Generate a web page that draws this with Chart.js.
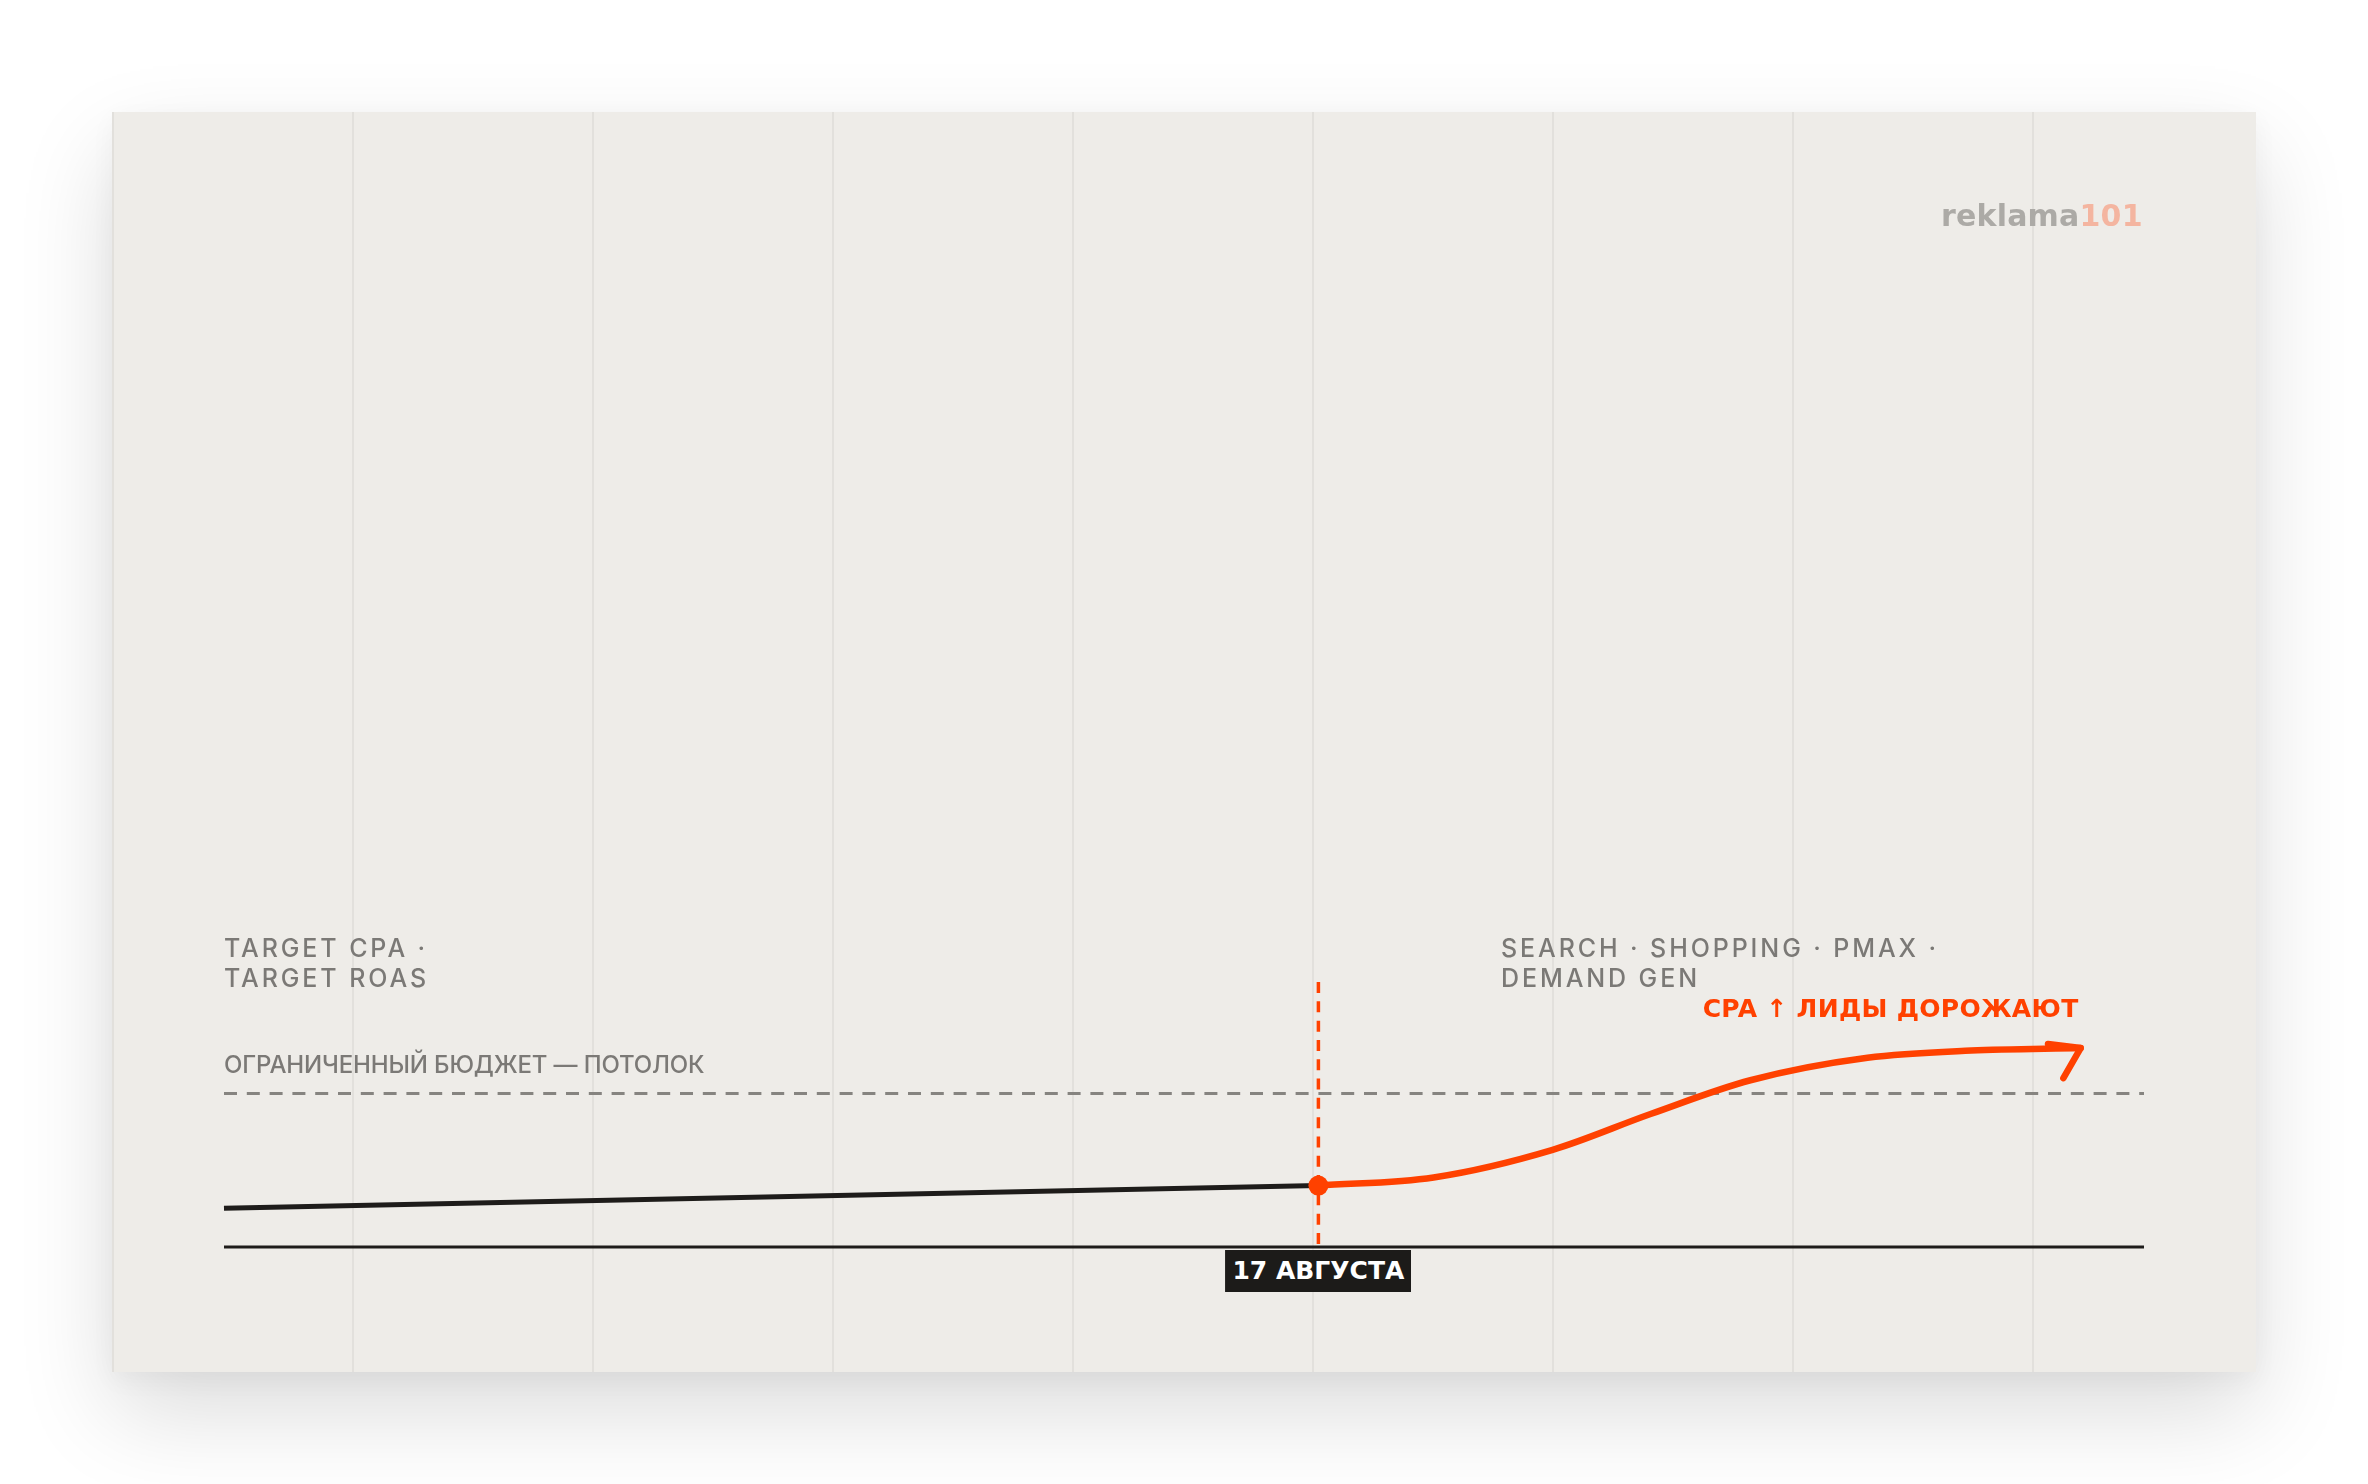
<!DOCTYPE html>
<html lang="ru">
<head>
<meta charset="utf-8">
<title>CPA</title>
<script src="https://cdn.jsdelivr.net/npm/chart.js@4.4.1/dist/chart.umd.min.js"></script>
<style>
  html, body { margin: 0; padding: 0; background: #ffffff; }
  body { width: 2368px; height: 1484px; position: relative; overflow: hidden; font-family: Inter, "Noto Sans", sans-serif; }
  #card {
    position: absolute; left: 112px; top: 112px; width: 2144px; height: 1260px;
    background-color: #eeece8;
    background-image: repeating-linear-gradient(to right, #e2e0dc 0 2px, transparent 2px 240px);
    box-shadow: 0 40px 90px rgba(0, 0, 0, 0.14), 0 8px 24px rgba(0, 0, 0, 0.04);
  }
  #grafico { position: absolute; left: 0; top: 0; }
  .rotulo {
    position: absolute; color: #7b7976; font-weight: 500; font-size: 25px;
    line-height: 30px; letter-spacing: 2.9px; white-space: nowrap;
  }
  #teto { font-size: 24px; letter-spacing: -0.15px; }
  #alerta {
    position: absolute; color: #ff4100; font-family: "DejaVu Sans", sans-serif; font-weight: bold;
    font-size: 25px; line-height: 28px; white-space: nowrap; letter-spacing: 0.3px;
  }
  #data {
    position: absolute; background: #1c1b19; color: #ffffff; font-family: "DejaVu Sans", sans-serif;
    font-weight: bold; font-size: 25px; height: 42px; line-height: 42px; padding: 0 7px;
    white-space: nowrap; transform: translateX(-50%);
  }
  #logo {
    position: absolute; font-family: "DejaVu Sans", sans-serif; font-weight: bold; font-size: 30px;
    line-height: 36px; letter-spacing: 0.2px; color: #acaaa6; white-space: nowrap;
  }
  #logo span { color: #f4b5a0; }
</style>
</head>
<body>
<div id="card">
  <canvas id="grafico" width="2144" height="1260"></canvas>
  <div id="logo">reklama<span>101</span></div>
  <div class="rotulo" id="esquerda" style="left:112px;top:821px">TARGET CPA ·<br>TARGET ROAS</div>
  <div class="rotulo" id="direita" style="left:1389px;top:821px">SEARCH · SHOPPING · PMAX ·<br>DEMAND GEN</div>
  <div class="rotulo" id="teto" style="left:112px;top:938px">ОГРАНИЧЕННЫЙ БЮДЖЕТ — ПОТОЛОК</div>
  <div id="alerta">CPA ↑ ЛИДЫ ДОРОЖАЮТ</div>
  <div id="data">17 АВГУСТА</div>
</div>
<script>
// eixo do tempo 0..100, CPA 0..100
const eixoX = [0, 100];
const eixoY = [0, 100];

// antes da mudança (linha preta)
const antesX = [0, 57];
const antesY = [3.8, 6.0];

// depois da mudança (curva laranja)
const depoisX = [57, 63, 69.2, 74.3, 79.5, 85.6, 91, 96.7];
const depoisY = [6.0, 6.8, 9.5, 13.0, 16.3, 18.5, 19.2, 19.45];

// ponta da seta
const setaX = [95.0, 96.7, 95.8];
const setaY = [19.85, 19.45, 16.5];

// teto do orçamento
const tetoY = 15;

// evento
const eventoX = 57;
const eventoY = 6.0;
const eventoTopo = 25.9;
const eventoLabel = '17 АВГУСТА';

const laranja = '#ff4100';
const preto = '#1e1c1a';

const pontos = (xs, ys) => xs.map((x, i) => ({ x: x, y: ys[i] }));

const grafico = new Chart(document.getElementById('grafico'), {
    type: 'line',
    data: {
        datasets: [
            {   // ponto do evento
                data: [{ x: eventoX, y: eventoY }],
                showLine: false,
                pointRadius: 10,
                pointBackgroundColor: laranja,
                pointBorderWidth: 0
            },
            {   // seta
                data: pontos(setaX, setaY),
                borderColor: laranja,
                borderWidth: 6.5,
                borderCapStyle: 'round',
                borderJoinStyle: 'round',
                pointRadius: 0,
                tension: 0
            },
            {   // curva laranja
                data: pontos(depoisX, depoisY),
                borderColor: laranja,
                borderWidth: 6.5,
                borderCapStyle: 'round',
                pointRadius: 0,
                cubicInterpolationMode: 'monotone'
            },
            {   // linha preta
                data: pontos(antesX, antesY),
                borderColor: preto,
                borderWidth: 5,
                pointRadius: 0,
                tension: 0
            },
            {   // linha vertical tracejada
                data: [{ x: eventoX, y: eventoTopo }, { x: eventoX, y: 0 }],
                borderColor: laranja,
                borderWidth: 3.5,
                borderDash: [11, 8.3],
                pointRadius: 0
            },
            {   // teto
                data: pontos(eixoX, [tetoY, tetoY]),
                borderColor: '#868480',
                borderWidth: 3,
                borderDash: [13, 9.8],
                pointRadius: 0
            },
            {   // eixo
                data: pontos(eixoX, [0, 0]),
                borderColor: preto,
                borderWidth: 3,
                pointRadius: 0
            }
        ]
    },
    options: {
        responsive: false,
        devicePixelRatio: 1,
        animation: false,
        layout: { padding: { left: 112, right: 112, top: 112, bottom: 125 } },
        datasets: { line: { clip: false } },
        scales: {
            x: { type: 'linear', min: eixoX[0], max: eixoX[1], display: false },
            y: { type: 'linear', min: eixoY[0], max: eixoY[1], display: false }
        },
        plugins: {
            legend: { display: false },
            tooltip: { enabled: false }
        }
    }
});

// posicionar rótulos a partir das escalas
const sx = grafico.scales.x;
const sy = grafico.scales.y;

const data = document.getElementById('data');
data.textContent = eventoLabel;
data.style.left = sx.getPixelForValue(eventoX) + 'px';
data.style.top = (sy.getPixelForValue(0) + 3) + 'px';

const alerta = document.getElementById('alerta');
alerta.style.left = (sx.getPixelForValue(96.6) - alerta.offsetWidth) + 'px';
alerta.style.top = '883px';

const logo = document.getElementById('logo');
logo.style.left = '1829px';
logo.style.top = '86px';
</script>
</body>
</html>
